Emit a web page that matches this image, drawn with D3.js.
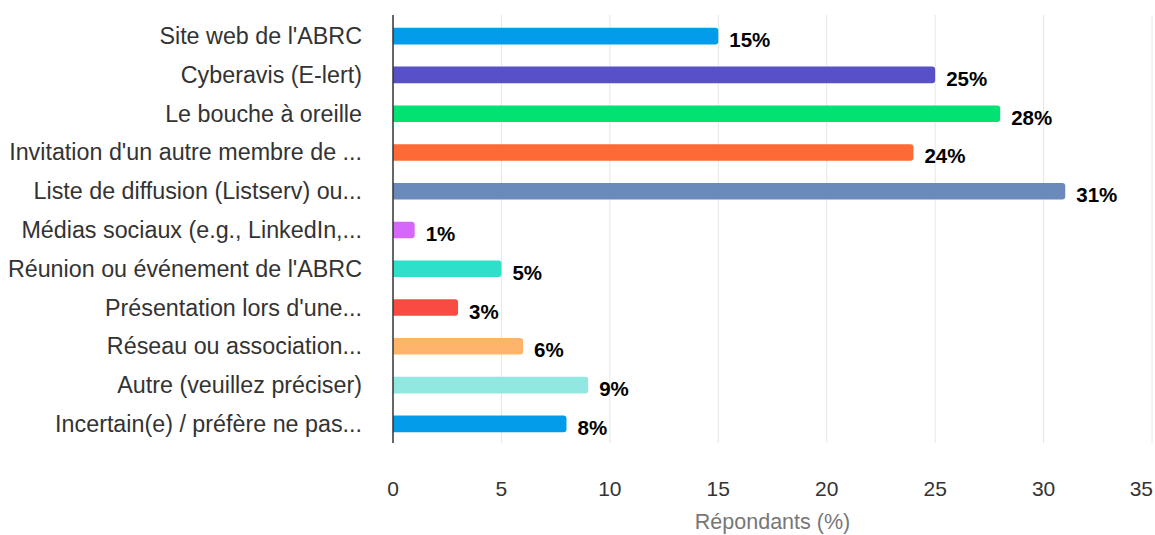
<!DOCTYPE html>
<html>
<head>
<meta charset="utf-8">
<script src="https://cdn.jsdelivr.net/npm/d3@7"></script>
<style>
  body { margin: 0; background: #fff; }
  text { font-family: "Liberation Sans", Arial, sans-serif; }
</style>
</head>
<body>
<svg id="chart" width="1155" height="535"></svg>
<script>
// categories and values
const categories = [
    "Site web de l'ABRC",
    "Cyberavis (E-lert)",
    "Le bouche à oreille",
    "Invitation d'un autre membre de ...",
    "Liste de diffusion (Listserv) ou...",
    "Médias sociaux (e.g., LinkedIn,...",
    "Réunion ou événement de l'ABRC",
    "Présentation lors d'une...",
    "Réseau ou association...",
    "Autre (veuillez préciser)",
    "Incertain(e) / préfère ne pas..."
];
const values = [15, 25, 28, 24, 31, 1, 5, 3, 6, 9, 8];
const colors = ["#039ceb", "#5750c6", "#00e272", "#fe6a35", "#6b8abc",
                "#d568fb", "#2ee0ca", "#fa4b42", "#feb56a", "#91e8e1", "#039ceb"];
const xTicks = [0, 5, 10, 15, 20, 25, 30, 35];

const svg = d3.select("#chart");
const plotLeft = 393, plotRight = 1152, plotTop = 17, plotBottom = 443;

const x = d3.scaleLinear().domain([0, 35]).range([plotLeft, plotRight]);
const y = d3.scaleBand().domain(categories).range([plotTop, plotBottom]).paddingInner(0.57).paddingOuter(0.28);

// gridlines
svg.append("g").selectAll("line").data(xTicks.slice(1)).enter()
    .append("line")
    .attr("x1", d => x(d)).attr("x2", d => x(d))
    .attr("y1", 15).attr("y2", plotBottom)
    .attr("stroke", "#e6e6e6").attr("stroke-width", 1);

// tick labels (last one kept inside the page)
svg.append("g").selectAll("text").data(xTicks).enter()
    .append("text")
    .attr("x", d => d === 35 ? 1153 : x(d)).attr("y", 496)
    .attr("text-anchor", d => d === 35 ? "end" : "middle")
    .attr("fill", "#333").attr("font-size", 21)
    .text(d => d);

// axis title
svg.append("text")
    .attr("x", (plotLeft + plotRight) / 2).attr("y", 529)
    .attr("text-anchor", "middle")
    .attr("fill", "#777").attr("font-size", 21.5)
    .text("Répondants (%)");

// bars with rounded right end
const r = 3;
const h = y.bandwidth();
svg.append("g").selectAll("path").data(values).enter()
    .append("path")
    .attr("fill", (d, i) => colors[i])
    .attr("d", (d, i) => {
        const x0 = x(0), x1 = x(d), y0 = y(categories[i]);
        const rr = Math.min(r, (x1 - x0) / 2);
        return `M${x0},${y0} H${x1 - rr} Q${x1},${y0} ${x1},${y0 + rr} V${y0 + h - rr} Q${x1},${y0 + h} ${x1 - rr},${y0 + h} H${x0} Z`;
    });

// value labels
svg.append("g").selectAll("text").data(values).enter()
    .append("text")
    .attr("x", d => x(d) + 11)
    .attr("y", (d, i) => y(categories[i]) + h / 2 + 11)
    .attr("fill", "#000").attr("font-size", 20.5).attr("font-weight", "bold")
    .text(d => d + "%");

// category labels
svg.append("g").selectAll("text").data(categories).enter()
    .append("text")
    .attr("x", 362)
    .attr("y", d => y(d) + h / 2 + 8)
    .attr("text-anchor", "end")
    .attr("fill", "#333").attr("font-size", 23.3)
    .text(d => d);

// y axis line
svg.append("line")
    .attr("x1", plotLeft).attr("x2", plotLeft)
    .attr("y1", 15).attr("y2", plotBottom)
    .attr("stroke", "#333").attr("stroke-width", 1.5);
</script>
</body>
</html>
